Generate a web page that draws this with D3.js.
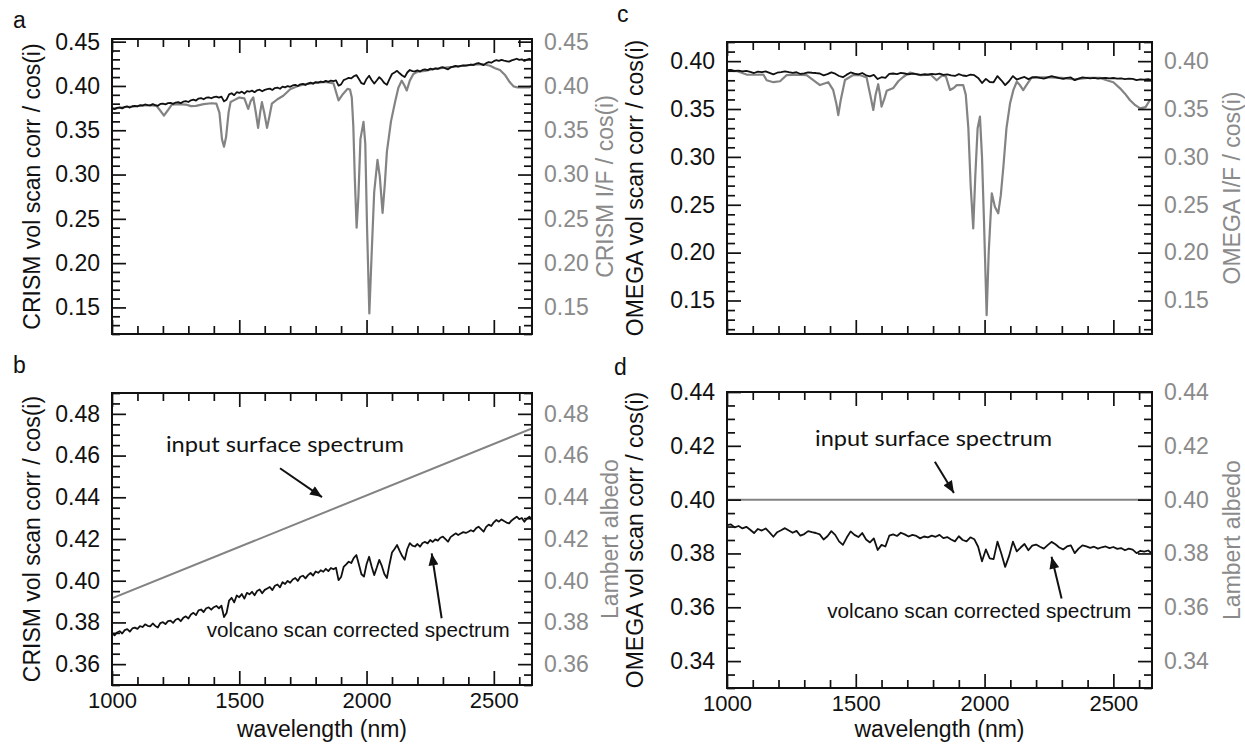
<!DOCTYPE html>
<html>
<head>
<meta charset="utf-8">
<script src="https://cdn.jsdelivr.net/npm/d3@7"></script>
<style>
body { margin: 0; background: #fff; }
</style>
</head>
<body>
<svg id="chart" width="1245" height="744"></svg>
<script>
// spectra: CRISM (a, b) and OMEGA (c, d)
var crismWl = d3.range(1000, 2651, 10);
var crismCorr = [
  .3749,.3738,.3752,.3758,.3747,.3763,.3768,.3756,.3771,.3775,
  .3769,.3782,.3778,.3791,.3784,.3781,.3795,.3783,.3776,.3797,
  .3801,.3792,.3806,.3809,.3798,.3813,.3818,.3806,.3822,.3829,
  .3819,.3838,.3846,.3835,.3858,.3862,.3850,.3868,.3872,.3861,
  .3873,.3879,.3868,.3880,.3826,.3845,.3905,.3918,.3896,.3929,
  .3921,.3936,.3914,.3942,.3935,.3947,.3930,.3951,.3958,.3940,
  .3956,.3963,.3970,.3955,.3976,.3982,.3968,.3993,.3984,.3999,
  .3990,.4006,.4013,.3999,.4019,.4024,.4011,.4027,.4037,.4025,
  .4044,.4038,.4050,.4043,.4057,.4046,.4061,.4055,.4062,.4003,
  .4018,.4066,.4078,.4091,.4085,.4110,.4123,.4078,.4031,.4020,
  .4079,.4115,.4068,.4027,.4062,.4100,.4071,.4032,.4013,.4078,
  .4135,.4152,.4171,.4143,.4118,.4100,.4152,.4180,.4168,.4164,
  .4176,.4163,.4181,.4186,.4179,.4195,.4186,.4198,.4192,.4206,
  .4211,.4199,.4187,.4209,.4218,.4227,.4219,.4226,.4233,.4229,
  .4235,.4242,.4236,.4251,.4259,.4247,.4235,.4258,.4269,.4262,
  .4280,.4291,.4283,.4294,.4286,.4279,.4275,.4289,.4298,.4307,
  .4295,.4301,.4283,.4297,.4307,.4290
];

var crismIFWl = [1000,1030,1060,1090,1120,1150,1175,1190,1204,1218,1235,1260,1290,1310,1330,1360,1390,1410,
  1422,1432,1440,1448,1458,1466,1480,1500,1520,1535,1545,1555,1565,1574,1582,1589,1598,1609,1618,1628,
  1650,1673,1700,1730,1760,1800,1840,1870,1890,1905,1925,1935,1942,1948,1954,1961,1968,1976,1988,1995,
  2002,2011,2020,2030,2043,2052,2063,2072,2080,2096,2112,2125,2138,2148,2158,2170,2184,2200,2230,2260,
  2300,2340,2380,2420,2460,2485,2505,2524,2545,2563,2578,2590,2620,2640,2650];
var crismIF = [.3745,.3752,.3765,.3768,.3780,.3782,.3775,.3720,.3665,.3720,.3790,.3795,.3790,.3772,.3775,.3795,.3805,.3800,
  .3700,.3400,.3314,.3420,.3700,.3820,.3840,.3870,.3860,.3740,.3830,.3870,.3700,.3527,.3700,.3817,.3700,.3527,.3650,.3800,
  .3850,.3890,.3963,.4000,.4020,.4035,.4045,.4030,.3837,.3900,.3967,.3960,.3870,.3550,.2950,.2401,.2750,.3400,.3594,.3350,
  .2400,.1432,.2100,.2800,.3166,.2980,.2568,.2900,.3258,.3600,.3818,.3980,.4060,.4010,.3949,.4060,.4134,.4160,.4170,.4190,
  .4205,.4215,.4228,.4240,.4245,.4228,.4200,.4180,.4120,.4041,.3995,.3985,.3985,.3985,.4005];

var omegaWl = d3.range(1000, 2651, 15);
var omegaCorr = [
  .3905,.3908,.3897,.3902,.3893,.3899,.3888,.3876,.3891,.3885,
  .3893,.3878,.3862,.3879,.3886,.3894,.3885,.3877,.3884,.3866,
  .3872,.3883,.3879,.3876,.3871,.3852,.3864,.3883,.3869,.3845,
  .3832,.3859,.3882,.3869,.3861,.3876,.3852,.3841,.3856,.3813,
  .3832,.3826,.3866,.3871,.3865,.3877,.3871,.3863,.3869,.3865,
  .3856,.3863,.3860,.3866,.3862,.3869,.3857,.3861,.3852,.3845,
  .3864,.3850,.3845,.3860,.3853,.3825,.3771,.3815,.3782,.3779,
  .3844,.3800,.3750,.3790,.3844,.3808,.3822,.3835,.3812,.3829,
  .3833,.3825,.3818,.3831,.3843,.3834,.3822,.3815,.3826,.3830,
  .3801,.3818,.3830,.3826,.3821,.3825,.3818,.3823,.3826,.3820,
  .3824,.3817,.3820,.3812,.3818,.3814,.3801,.3810,.3807,.3811,
  .3800
];

var omegaIFWl = [1000,1040,1076,1100,1141,1154,1180,1206,1232,1270,1309,1361,1393,1412,1425,1432,1442,1458,1490,
  1515,1542,1556,1568,1577,1587,1594,1600,1610,1620,1646,1665,1684,1710,1749,1790,1814,1835,1850,1866,1880,1892,
  1917,1927,1937,1946,1956,1964,1973,1982,1990,1998,2008,2016,2028,2040,2053,2063,2073,2085,2099,2112,2125,2137,
  2150,2165,2183,2250,2300,2350,2400,2450,2474,2500,2526,2545,2564,2585,2604,2625,2642,2650];
var omegaIF = [.3900,.3895,.3860,.3858,.3860,.3800,.3780,.3790,.3855,.3860,.3855,.3750,.3780,.3700,.3550,.3437,.3600,.3803,.3855,
  .3855,.3830,.3650,.3490,.3650,.3759,.3650,.3524,.3600,.3690,.3720,.3790,.3834,.3880,.3855,.3860,.3800,.3850,.3840,.3698,.3720,.3750,
  .3750,.3650,.3300,.2700,.2253,.2800,.3300,.3420,.3000,.2300,.1347,.2000,.2619,.2480,.2410,.2600,.2897,.3300,.3560,.3700,.3785,.3750,
  .3698,.3760,.3830,.3830,.3825,.3810,.3825,.3825,.3800,.3780,.3716,.3660,.3594,.3540,.3507,.3520,.3594,.3600];

// model input surfaces (straight lines)
var crismSurfWl = [1000, 2650];
var crismSurf = [0.3915, 0.473];
var omegaSurfWl = [1000, 2650];
var omegaSurf = [0.40, 0.40];

var xMajor = [1000, 1500, 2000, 2500];
var ticksA = [0.15, 0.20, 0.25, 0.30, 0.35, 0.40, 0.45];
var ticksB = [0.36, 0.38, 0.40, 0.42, 0.44, 0.46, 0.48];
var ticksC = [0.15, 0.20, 0.25, 0.30, 0.35, 0.40];
var ticksD = [0.34, 0.36, 0.38, 0.40, 0.42, 0.44];

const FONT = "'Liberation Sans', Arial, Helvetica, sans-serif";
const BLACK = "#111";
const GREY = "#838383";
const LABEL_GREY = "#8a8a8a";

var svg = d3.select("#chart");

svg.append("defs").append("marker")
  .attr("id", "arrow")
  .attr("viewBox", "0 0 12 10")
  .attr("refX", 12).attr("refY", 5)
  .attr("markerWidth", 13).attr("markerHeight", 10)
  .attr("markerUnits", "userSpaceOnUse")
  .attr("orient", "auto")
  .append("path").attr("d", "M0,0 L12,5 L0,10 Z").attr("fill", BLACK);

function steps(lo, hi, step) {
  // minor tick positions, in integer units to avoid float drift
  var k = Math.round(1 / step);
  return d3.range(Math.ceil(lo * k - 1e-6), Math.floor(hi * k + 1e-6) + 1).map(function (v) { return v / k; });
}

function drawPanel(p) {
  var g = svg.append("g");
  var left = p.left, top = p.top, right = p.left + p.width, bottom = p.top + p.height;

  var x = d3.scaleLinear().domain([1000, 2650]).range([left, right]);
  var y = d3.scaleLinear().domain(p.yDomain).range([bottom, top]);

  svg.select("defs").append("clipPath").attr("id", "clip-" + p.letter)
    .append("rect").attr("x", left).attr("y", top).attr("width", p.width).attr("height", p.height);

  var line = d3.line().x(function (d) { return x(d[0]); }).y(function (d) { return y(d[1]); });

  p.series.forEach(function (s) {
    g.append("path")
      .datum(d3.zip(s.wl, s.val))
      .attr("clip-path", "url(#clip-" + p.letter + ")")
      .attr("d", line)
      .attr("fill", "none")
      .attr("stroke", s.color)
      .attr("stroke-width", s.width)
      .attr("stroke-linejoin", "round");
  });

  // inward ticks on all four sides
  var xMinor = d3.range(1000, 2651, 100).filter(function (v) { return xMajor.indexOf(v) < 0; });
  var yMinor = steps(p.yDomain[0], p.yDomain[1], p.minor).filter(function (v) {
    return !p.yTicks.some(function (t) { return Math.abs(t - v) < 1e-6; });
  });

  function tickAxis(axis, tx, ty, vals, size) {
    var a = g.append("g").attr("transform", "translate(" + tx + "," + ty + ")")
      .call(axis.tickValues(vals).tickSize(size).tickFormat(""));
    a.select(".domain").remove();
    a.selectAll("line").attr("stroke", BLACK).attr("stroke-width", 1.7);
  }
  [[xMinor, 8], [xMajor, 14]].forEach(function (t) {
    tickAxis(d3.axisTop(x), 0, bottom, t[0], t[1]);
    tickAxis(d3.axisBottom(x), 0, top, t[0], t[1]);
  });
  [[yMinor, 8], [p.yTicks, 14]].forEach(function (t) {
    tickAxis(d3.axisRight(y), left, 0, t[0], t[1]);
    tickAxis(d3.axisLeft(y), right, 0, t[0], t[1]);
  });

  // tick labels
  var fmt = d3.format(".2f");
  var la = g.append("g").attr("transform", "translate(" + left + ",0)")
    .call(d3.axisLeft(y).tickValues(p.yTicks).tickSize(0).tickPadding(12).tickFormat(fmt));
  la.select(".domain").remove();
  la.attr("font-size", 23).attr("font-family", FONT);
  la.selectAll("text").attr("fill", BLACK);

  var ra = g.append("g").attr("transform", "translate(" + right + ",0)")
    .call(d3.axisRight(y).tickValues(p.yTicks).tickSize(0).tickPadding(12).tickFormat(fmt));
  ra.select(".domain").remove();
  ra.attr("font-size", 23).attr("font-family", FONT);
  ra.selectAll("text").attr("fill", LABEL_GREY);

  if (p.xLabels) {
    var ba = g.append("g").attr("transform", "translate(0," + bottom + ")")
      .call(d3.axisBottom(x).tickValues(xMajor).tickSize(0).tickPadding(7).tickFormat(d3.format("d")));
    ba.select(".domain").remove();
    ba.attr("font-size", 22).attr("font-family", FONT);
    ba.selectAll("text").attr("fill", BLACK);

    g.append("text")
      .attr("x", (left + right) / 2).attr("y", 737)
      .attr("text-anchor", "middle")
      .attr("font-family", FONT).attr("font-size", 23)
      .attr("fill", BLACK)
      .text("wavelength (nm)");
  }

  // frame
  g.append("rect")
    .attr("x", left).attr("y", top).attr("width", p.width).attr("height", p.height)
    .attr("fill", "none").attr("stroke", BLACK).attr("stroke-width", 2);

  // axis titles
  var cy = (top + bottom) / 2;
  g.append("text")
    .attr("transform", "translate(" + p.leftTitleX + "," + cy + ") rotate(-90)")
    .attr("text-anchor", "middle")
    .attr("font-family", FONT).attr("font-size", 23)
    .attr("fill", BLACK)
    .text(p.leftTitle);
  g.append("text")
    .attr("transform", "translate(" + p.rightTitleX + "," + cy + ") rotate(-90)")
    .attr("text-anchor", "middle")
    .attr("font-family", FONT).attr("font-size", 23)
    .attr("fill", LABEL_GREY)
    .text(p.rightTitle);

  // panel letter
  g.append("text")
    .attr("x", p.letterX).attr("y", p.letterY)
    .attr("font-family", FONT).attr("font-size", 23)
    .attr("fill", BLACK)
    .text(p.letter);

  // annotations
  (p.notes || []).forEach(function (n) {
    g.append("text")
      .attr("x", x(n.wl)).attr("y", y(n.v))
      .attr("font-family", n.font).attr("font-size", n.size)
      .attr("textLength", n.len).attr("lengthAdjust", "spacingAndGlyphs")
      .attr("fill", BLACK)
      .text(n.text);
  });
  (p.arrows || []).forEach(function (a) {
    g.append("line")
      .attr("x1", x(a[0])).attr("y1", y(a[1]))
      .attr("x2", x(a[2])).attr("y2", y(a[3]))
      .attr("stroke", BLACK).attr("stroke-width", 2)
      .attr("marker-end", "url(#arrow)");
  });
}

var calibri = "Lato, 'Open Sans', sans-serif";

drawPanel({
  letter: "a", letterX: 13, letterY: 28,
  left: 112, top: 39, width: 420, height: 295,
  yDomain: [0.12, 0.453], yTicks: ticksA, minor: 0.01,
  xLabels: false,
  leftTitle: "CRISM vol scan corr / cos(i)", leftTitleX: 40,
  rightTitle: "CRISM I/F / cos(i)", rightTitleX: 613,
  series: [
    { wl: crismIFWl, val: crismIF, color: GREY, width: 2.2 },
    { wl: crismWl, val: crismCorr, color: BLACK, width: 1.8 }
  ]
});

drawPanel({
  letter: "b", letterX: 13, letterY: 373,
  left: 112, top: 393, width: 420, height: 292,
  yDomain: [0.35, 0.49], yTicks: ticksB, minor: 0.005,
  xLabels: true,
  leftTitle: "CRISM vol scan corr / cos(i)", leftTitleX: 40,
  rightTitle: "Lambert albedo", rightTitleX: 618,
  series: [
    { wl: crismSurfWl, val: crismSurf, color: GREY, width: 2 },
    { wl: crismWl, val: crismCorr, color: BLACK, width: 1.8 }
  ],
  notes: [
    { text: "input surface spectrum", wl: 1212, v: 0.4618, font: calibri, size: 21, len: 238 },
    { text: "volcano scan corrected spectrum", wl: 1372, v: 0.3730, font: FONT, size: 20.5, len: 303 }
  ],
  arrows: [[1660, 0.4539, 1825, 0.4401], [2295, 0.3820, 2256, 0.4131]]
});

drawPanel({
  letter: "c", letterX: 617, letterY: 22,
  left: 727, top: 42, width: 425, height: 292,
  yDomain: [0.115, 0.42], yTicks: ticksC, minor: 0.01,
  xLabels: false,
  leftTitle: "OMEGA vol scan corr / cos(i)", leftTitleX: 643,
  rightTitle: "OMEGA I/F / cos(i)", rightTitleX: 1240,
  series: [
    { wl: omegaIFWl, val: omegaIF, color: GREY, width: 2.2 },
    { wl: omegaWl, val: omegaCorr, color: BLACK, width: 1.8 }
  ]
});

drawPanel({
  letter: "d", letterX: 614, letterY: 375,
  left: 727, top: 392, width: 425, height: 296,
  yDomain: [0.33, 0.44], yTicks: ticksD, minor: 0.005,
  xLabels: true,
  leftTitle: "OMEGA vol scan corr / cos(i)", leftTitleX: 643,
  rightTitle: "Lambert albedo", rightTitleX: 1240,
  series: [
    { wl: omegaSurfWl, val: omegaSurf, color: GREY, width: 2 },
    { wl: omegaWl, val: omegaCorr, color: BLACK, width: 1.8 }
  ],
  notes: [
    { text: "input surface spectrum", wl: 1342, v: 0.4199, font: calibri, size: 21, len: 237 },
    { text: "volcano scan corrected spectrum", wl: 1389, v: 0.3560, font: FONT, size: 20.5, len: 304 }
  ],
  arrows: [[1807, 0.4141, 1881, 0.4025], [2299, 0.3633, 2260, 0.3788]]
});
</script>
</body>
</html>
